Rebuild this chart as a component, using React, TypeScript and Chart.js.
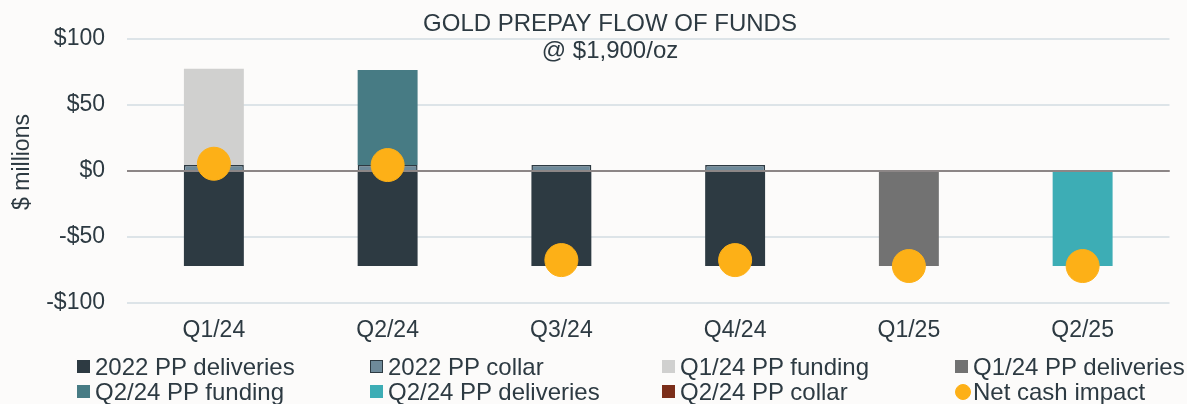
import React, { useEffect, useRef } from "react";
import { Chart, registerables } from "chart.js";

Chart.register(...registerables);

const categories = ["Q1/24", "Q2/24", "Q3/24", "Q4/24", "Q1/25", "Q2/25"];
const ppDeliveries2022 = [-72, -72, -72, -72, null, null];
const ppCollar2022 = [4.5, 4.5, 4.5, 4.5, null, null];
const q124Funding = [73, null, null, null, null, null];
const q124Deliveries = [null, null, null, null, -72, null];
const q224Funding = [null, 72, null, null, null, null];
const q224Deliveries = [null, null, null, null, null, -72];
const q224Collar = [null, null, null, null, null, null];
const netCashImpact = [5.5, 4.5, -67.5, -67.5, -72, -72];
const yTicks = [-100, -50, 0, 50, 100];

const FONT = "'Liberation Sans', Arial, sans-serif";
const TEXT = "#2D3A42";

const legendItems = [
  { label: "2022 PP deliveries", color: "#2D3A42", border: "#2D3A42", shape: "box" },
  { label: "2022 PP collar", color: "#6E8A9A", border: "#2D3A42", shape: "box" },
  { label: "Q1/24 PP funding", color: "#D0D0CF", border: "#D0D0CF", shape: "box" },
  { label: "Q1/24 PP deliveries", color: "#727272", border: "#727272", shape: "box" },
  { label: "Q2/24 PP funding", color: "#477B84", border: "#477B84", shape: "box" },
  { label: "Q2/24 PP deliveries", color: "#3DADB5", border: "#3DADB5", shape: "box" },
  { label: "Q2/24 PP collar", color: "#7B2E1A", border: "#7B2E1A", shape: "box" },
  { label: "Net cash impact", color: "#FDB017", border: "#FDB017", shape: "circle" },
];
const legendCols = [77, 370, 662, 955];
const legendRows = [366.5, 391.5];

export default function App() {
  const ref = useRef<HTMLCanvasElement | null>(null);

  useEffect(() => {
    document.body.style.margin = "0";
    document.body.style.background = "#FCFBFA";
    const canvas = ref.current;
    if (!canvas) return;

    const zeroLinePlugin = {
      id: "zeroLine",
      beforeDatasetDraw(chart: any, args: any) {
        if (args.index !== 7) return;
        const y = chart.scales.y.getPixelForValue(0);
        const ctx = chart.ctx;
        ctx.save();
        ctx.strokeStyle = "#8C8686";
        ctx.lineWidth = 2;
        ctx.beginPath();
        ctx.moveTo(chart.chartArea.left, y);
        ctx.lineTo(chart.chartArea.right, y);
        ctx.stroke();
        ctx.restore();
      },
      afterDraw(chart: any) {
        const ctx = chart.ctx;
        ctx.save();
        ctx.fillStyle = TEXT;
        ctx.textAlign = "center";
        ctx.textBaseline = "middle";
        ctx.font = `24px ${FONT}`;
        ctx.fillText("GOLD PREPAY FLOW OF FUNDS", 610, 24);
        ctx.fillText("@ $1,900/oz", 610, 51);
        ctx.font = `23px ${FONT}`;
        ctx.translate(23, 162);
        ctx.rotate(-Math.PI / 2);
        ctx.fillText("$ millions", 0, 0);
        ctx.restore();
      },
    };

    const bar = (label: string, data: any[], color: string, border?: string, bw = 0) => ({
      type: "bar" as const,
      label,
      data,
      backgroundColor: color,
      borderColor: border || color,
      borderWidth: bw,
      stack: "s",
      categoryPercentage: 1,
      barPercentage: 0.345,
      order: 2,
    });

    const chart = new Chart(canvas, {
      type: "bar",
      data: {
        labels: categories,
        datasets: [
          bar("2022 PP deliveries", ppDeliveries2022, "#2D3A42"),
          bar("2022 PP collar", ppCollar2022, "#6E8A9A", "#2D3A42", 1.5),
          bar("Q1/24 PP funding", q124Funding, "#D0D0CF"),
          bar("Q1/24 PP deliveries", q124Deliveries, "#727272"),
          bar("Q2/24 PP funding", q224Funding, "#477B84"),
          bar("Q2/24 PP deliveries", q224Deliveries, "#3DADB5"),
          bar("Q2/24 PP collar", q224Collar, "#7B2E1A"),
          {
            type: "scatter" as any,
            label: "Net cash impact",
            data: netCashImpact as any,
            backgroundColor: "#FDB017",
            borderColor: "#FDB017",
            pointRadius: 16.5,
            pointHoverRadius: 16.5,
            showLine: false,
            order: 1,
          } as any,
        ],
      },
      options: {
        animation: false,
        responsive: false,
        maintainAspectRatio: false,
        layout: { padding: { top: 39, left: 0, right: 15, bottom: 0 } },
        plugins: {
          legend: { display: false },
          tooltip: { enabled: false },
          title: { display: false },
        },
        scales: {
          x: {
            type: "category",
            stacked: true,
            offset: true,
            grid: { display: false, drawTicks: false },
            border: { display: false },
            ticks: { color: TEXT, font: { family: FONT, size: 23 }, padding: 14 },
            afterFit: (s: any) => { s.height = 101; },
          },
          y: {
            stacked: true,
            min: -100,
            max: 100,
            afterBuildTicks: (s: any) => { s.ticks = yTicks.map((v) => ({ value: v })); },
            grid: {
              drawTicks: false,
              lineWidth: 2,
              color: (c: any) => (c.tick && c.tick.value === 0 ? "#8C8686" : "#DDE4E8"),
            },
            border: { display: false },
            ticks: {
              color: TEXT,
              font: { family: FONT, size: 23 },
              padding: 22,
              callback: (v: any) => (v < 0 ? "-$" + Math.abs(v) : "$" + v),
            },
            title: { display: false },
            afterFit: (s: any) => { s.width = 127; },
          },
        },
      },
      plugins: [zeroLinePlugin],
    } as any);

    return () => chart.destroy();
  }, []);

  return (
    <div style={{ position: "relative", width: 1187, height: 404, background: "#FCFBFA", fontFamily: FONT, overflow: "hidden" }}>
      <canvas ref={ref} width={1187} height={404} style={{ position: "absolute", left: 0, top: 0 }} />
      {legendItems.map((it, i) => {
        const col = i % 4;
        const row = Math.floor(i / 4);
        const isCircle = it.shape === "circle";
        return (
          <div
            key={it.label}
            style={{
              position: "absolute",
              left: legendCols[col],
              top: legendRows[row] - 12,
              height: 24,
              display: "flex",
              alignItems: "center",
              whiteSpace: "nowrap",
              color: TEXT,
              fontSize: 24,
              lineHeight: "24px",
            }}
          >
            <span
              style={{
                display: "inline-block",
                flex: "none",
                width: isCircle ? 16 : 13,
                height: isCircle ? 16 : 13,
                boxSizing: "border-box",
                background: it.color,
                border: `1.5px solid ${it.border}`,
                borderRadius: isCircle ? "50%" : 0,
                marginRight: isCircle ? 2 : 5,
              }}
            />
            <span>{it.label}</span>
          </div>
        );
      })}
    </div>
  );
}
